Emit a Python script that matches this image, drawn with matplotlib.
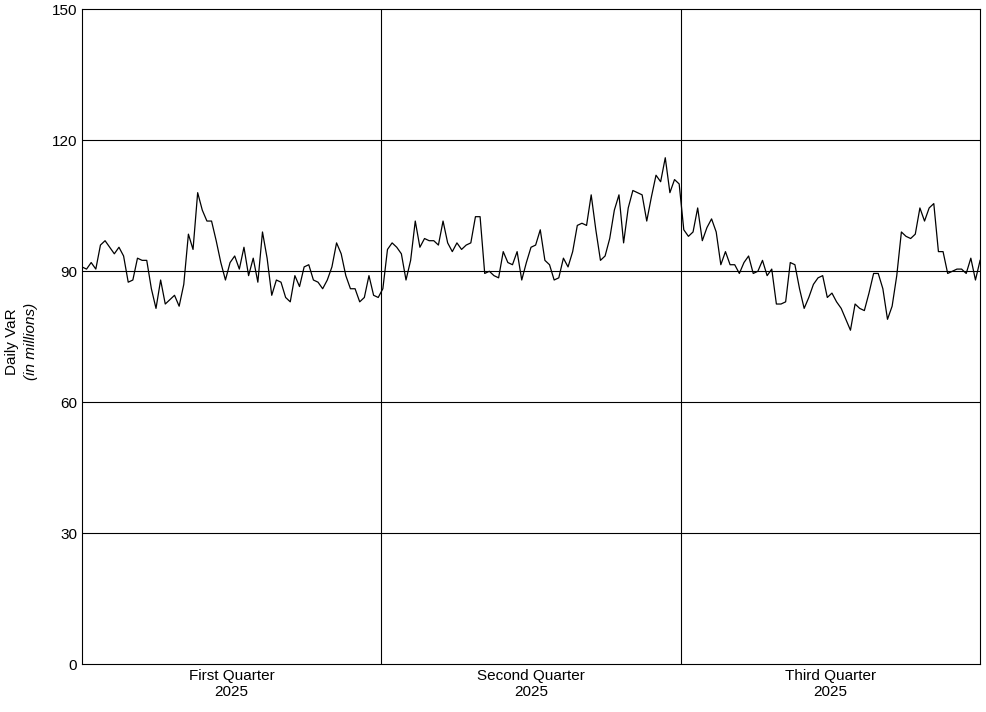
import numpy as np
import matplotlib.pyplot as plt

plt.rcParams['font.family'] = ['Liberation Sans', 'DejaVu Sans']

q1 = [91, 90.5, 92, 90.5, 96, 97, 95.5, 94, 95.5, 93.5, 87.5, 88, 93, 92.5, 92.5, 86, 81.5, 88,
      82.5, 83.5, 84.5, 82, 87, 98.5, 95, 108, 104, 101.5, 101.5, 97, 92, 88, 92, 93.5, 90.5, 95.5,
      89, 93, 87.5, 99, 93, 84.5, 88, 87.5, 84, 83, 89, 86.5, 91, 91.5, 88, 87.5, 86, 88, 91, 96.5,
      94, 89, 86, 86, 83, 84, 89, 84.5]
q2 = [84, 86, 95, 96.5, 95.5, 94, 88, 92.5, 101.5, 95.5, 97.5, 97, 97, 96, 101.5, 96.5, 94.5,
      96.5, 95, 96, 96.5, 102.5, 102.5, 89.5, 90, 89, 88.5, 94.5, 92, 91.5, 94.5, 88, 92, 95.5, 96,
      99.5, 92.5, 91.5, 88, 88.5, 93, 91, 94.5, 100.5, 101, 100.5, 107.5, 99.5, 92.5, 93.5, 97.5,
      104, 107.5, 96.5, 104.5, 108.5, 108, 107.5, 101.5, 107, 112, 110.5, 116, 108, 111]
q3 = [110, 99.5, 98, 99, 104.5, 97, 100, 102, 99, 91.5, 94.5, 91.5, 91.5, 89.5, 92, 93.5, 89.5,
      90, 92.5, 89, 90.5, 82.5, 82.5, 83, 92, 91.5, 86, 81.5, 84, 87, 88.5, 89, 84, 85, 83, 81.5,
      79, 76.5, 82.5, 81.5, 81, 85, 89.5, 89.5, 86, 79, 82, 89, 99, 98, 97.5, 98.5, 104.5, 101.5,
      104.5, 105.5, 94.5, 94.5, 89.5, 90, 90.5, 90.5, 89.5, 93, 88, 92.5]
quarters = ['First Quarter\n2025', 'Second Quarter\n2025', 'Third Quarter\n2025']

var = np.array(q1 + q2 + q3)
x = np.linspace(0, 3, len(var))

fig = plt.figure(figsize=(9.87, 7.12), dpi=100)
ax = fig.add_axes([0.083, 0.067, 0.91, 0.92])
ax.plot(x, var, color='black', lw=0.9)

ax.set_xlim(0, 3)
ax.set_ylim(0, 150)
ax.set_yticks(range(0, 151, 30))
ax.set_xticks([0.5, 1.5, 2.5])
ax.set_xticklabels(quarters, fontsize=11)
ax.tick_params(axis='both', length=0, labelsize=11)
for yv in range(30, 150, 30):
    ax.axhline(yv, color='black', lw=0.8)
for xv in [1, 2]:
    ax.axvline(xv, color='black', lw=0.8)
for s in ax.spines.values():
    s.set_linewidth(0.8)

fig.text(0.012, 0.52, 'Daily VaR', rotation=90, ha='center', va='center', fontsize=11)
fig.text(0.031, 0.52, '(in millions)', rotation=90, ha='center', va='center', fontsize=11,
         style='italic')

fig.savefig('out.png', dpi=100)
